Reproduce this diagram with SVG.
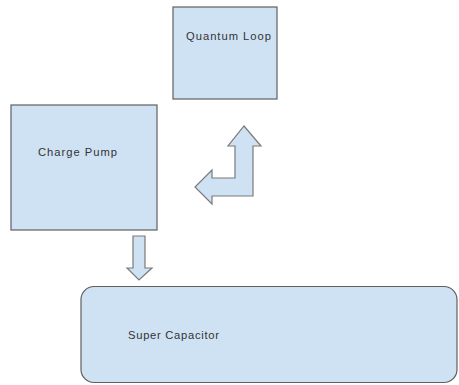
<svg xmlns="http://www.w3.org/2000/svg" width="459" height="385" viewBox="0 0 459 385">
<style>
.box{fill:#cfe2f3;stroke:#5f5f5f;stroke-width:1.2}
.arr{fill:#cfe2f3;stroke:#7a7a7a;stroke-width:1.2;stroke-linejoin:miter}
.lbl{font-family:"Liberation Sans",Arial,sans-serif;font-size:11.2px;fill:#333}
</style>
<rect width="459" height="385" fill="#ffffff"/>
<g id="quantum-loop">
<rect class="box" x="173" y="7" width="104" height="92"/>
<text class="lbl" x="186" y="40" textLength="85" lengthAdjust="spacing">Quantum Loop</text>
</g>
<g id="charge-pump">
<rect class="box" x="11" y="105" width="146" height="125"/>
<text class="lbl" x="38" y="156" textLength="79" lengthAdjust="spacing">Charge Pump</text>
</g>
<g id="super-capacitor">
<rect class="box" x="81" y="286.5" width="376" height="96" rx="13" ry="13"/>
<text class="lbl" x="128" y="339" textLength="91" lengthAdjust="spacing">Super Capacitor</text>
</g>
<g id="connectors">
<path class="arr" d="M244,126 L261,146 L253,146 L253,196 L212,196 L212,204 L195,187 L212,170 L212,178 L235,178 L235,146 L228,146 Z"/>
<path class="arr" d="M133,236 L145,236 L145,268 L152,268 L139,280 L127,268 L133,268 Z"/>
</g>
</svg>
